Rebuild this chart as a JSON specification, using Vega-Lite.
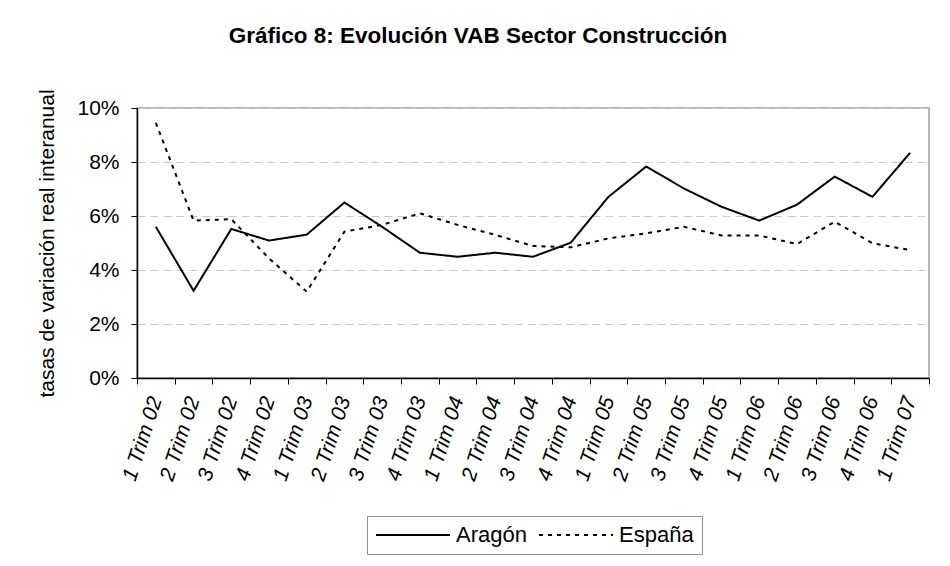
{
  "$schema": "https://vega.github.io/schema/vega-lite/v6.json",
  "autosize": {"type": "none"},
  "width": 792,
  "height": 270,
  "padding": {"left": 137, "top": 108, "right": 21, "bottom": 188},
  "background": "white",
  "title": {
    "text": "Gráfico 8: Evolución VAB Sector Construcción",
    "font": "Liberation Sans",
    "fontSize": 22.5,
    "fontWeight": "bold",
    "color": "black",
    "anchor": "middle",
    "frame": "group",
    "dx": -55,
    "offset": 41
  },
  "config": {
    "font": "Liberation Sans",
    "view": {"stroke": "#a0a0a0", "strokeWidth": 1.5},
    "axis": {"labelColor": "black", "titleColor": "black", "domainColor": "black", "tickColor": "black"}
  },
  "data": {
    "values": [
      {"trimestre": "1 Trim 02", "serie": "Aragón", "valor": 5.6},
      {"trimestre": "2 Trim 02", "serie": "Aragón", "valor": 3.23},
      {"trimestre": "3 Trim 02", "serie": "Aragón", "valor": 5.52},
      {"trimestre": "4 Trim 02", "serie": "Aragón", "valor": 5.09},
      {"trimestre": "1 Trim 03", "serie": "Aragón", "valor": 5.31},
      {"trimestre": "2 Trim 03", "serie": "Aragón", "valor": 6.5},
      {"trimestre": "3 Trim 03", "serie": "Aragón", "valor": 5.6},
      {"trimestre": "4 Trim 03", "serie": "Aragón", "valor": 4.64},
      {"trimestre": "1 Trim 04", "serie": "Aragón", "valor": 4.49},
      {"trimestre": "2 Trim 04", "serie": "Aragón", "valor": 4.64},
      {"trimestre": "3 Trim 04", "serie": "Aragón", "valor": 4.49},
      {"trimestre": "4 Trim 04", "serie": "Aragón", "valor": 5.01},
      {"trimestre": "1 Trim 05", "serie": "Aragón", "valor": 6.71},
      {"trimestre": "2 Trim 05", "serie": "Aragón", "valor": 7.83},
      {"trimestre": "3 Trim 05", "serie": "Aragón", "valor": 7.02},
      {"trimestre": "4 Trim 05", "serie": "Aragón", "valor": 6.34},
      {"trimestre": "1 Trim 06", "serie": "Aragón", "valor": 5.83},
      {"trimestre": "2 Trim 06", "serie": "Aragón", "valor": 6.42},
      {"trimestre": "3 Trim 06", "serie": "Aragón", "valor": 7.46},
      {"trimestre": "4 Trim 06", "serie": "Aragón", "valor": 6.71},
      {"trimestre": "1 Trim 07", "serie": "Aragón", "valor": 8.34},
      {"trimestre": "1 Trim 02", "serie": "España", "valor": 9.45},
      {"trimestre": "2 Trim 02", "serie": "España", "valor": 5.83},
      {"trimestre": "3 Trim 02", "serie": "España", "valor": 5.88},
      {"trimestre": "4 Trim 02", "serie": "España", "valor": 4.43},
      {"trimestre": "1 Trim 03", "serie": "España", "valor": 3.2},
      {"trimestre": "2 Trim 03", "serie": "España", "valor": 5.42},
      {"trimestre": "3 Trim 03", "serie": "España", "valor": 5.67},
      {"trimestre": "4 Trim 03", "serie": "España", "valor": 6.1},
      {"trimestre": "1 Trim 04", "serie": "España", "valor": 5.67},
      {"trimestre": "2 Trim 04", "serie": "España", "valor": 5.3},
      {"trimestre": "3 Trim 04", "serie": "España", "valor": 4.89},
      {"trimestre": "4 Trim 04", "serie": "España", "valor": 4.84},
      {"trimestre": "1 Trim 05", "serie": "España", "valor": 5.17},
      {"trimestre": "2 Trim 05", "serie": "España", "valor": 5.36},
      {"trimestre": "3 Trim 05", "serie": "España", "valor": 5.6},
      {"trimestre": "4 Trim 05", "serie": "España", "valor": 5.28},
      {"trimestre": "1 Trim 06", "serie": "España", "valor": 5.28},
      {"trimestre": "2 Trim 06", "serie": "España", "valor": 4.96},
      {"trimestre": "3 Trim 06", "serie": "España", "valor": 5.79},
      {"trimestre": "4 Trim 06", "serie": "España", "valor": 4.99},
      {"trimestre": "1 Trim 07", "serie": "España", "valor": 4.74}
    ]
  },
  "mark": {"type": "line", "color": "black", "strokeWidth": 2},
  "encoding": {
    "x": {
      "field": "trimestre",
      "type": "ordinal",
      "sort": null,
      "scale": {"type": "band", "paddingInner": 0, "paddingOuter": 0},
      "axis": {
        "title": null,
        "labelAngle": -72,
        "labelFontSize": 21,
        "labelFontStyle": "italic",
        "labelPadding": 13,
        "tickBand": "extent",
        "tickSize": 6,
        "domainWidth": 1.5,
        "grid": false
      }
    },
    "y": {
      "field": "valor",
      "type": "quantitative",
      "scale": {"domain": [0, 10], "nice": false},
      "axis": {
        "title": "tasas de variación real interanual",
        "titleFontSize": 21,
        "titleFontWeight": "normal",
        "titlePadding": 19,
        "values": [0, 2, 4, 6, 8, 10],
        "labelExpr": "datum.value + '%'",
        "labelFontSize": 21,
        "labelPadding": 12,
        "tickSize": 6,
        "domainWidth": 1.5,
        "grid": true,
        "gridColor": "#c8c8c8",
        "gridDash": [8, 5],
        "gridWidth": 1.2
      }
    },
    "strokeDash": {
      "field": "serie",
      "type": "nominal",
      "scale": {"domain": ["Aragón", "España"], "range": [[1, 0], [4, 5]]},
      "legend": {
        "title": null,
        "orient": "none",
        "direction": "horizontal",
        "legendX": 230,
        "legendY": 408,
        "strokeColor": "#909090",
        "padding": 8,
        "labelFontSize": 22,
        "labelColor": "black",
        "labelOffset": 59,
        "columnPadding": 8,
        "symbolType": "M-1,0L6.4,0",
        "symbolSize": 400,
        "symbolStrokeWidth": 2,
        "symbolStrokeColor": "black",
        "symbolFillColor": "transparent"
      }
    }
  }
}
